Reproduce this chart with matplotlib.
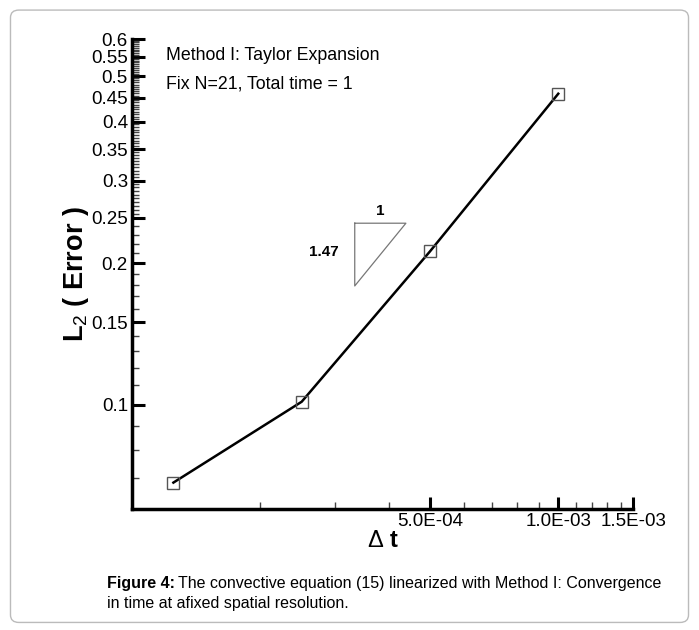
import numpy as np
import matplotlib
matplotlib.use("Agg")
import matplotlib.pyplot as plt
from matplotlib.ticker import FixedLocator, FuncFormatter, NullFormatter
from matplotlib.patches import FancyBboxPatch

plt.rcParams['font.family'] = ['Liberation Sans', 'DejaVu Sans']
plt.rcParams['mathtext.fontset'] = 'custom'
plt.rcParams['mathtext.rm'] = 'Liberation Sans'
plt.rcParams['mathtext.bf'] = 'Liberation Sans:bold'

# convergence in time, Method I
dt = [1.25e-4, 2.5e-4, 5.0e-4, 1.0e-3]
err = [0.0683, 0.1015, 0.212, 0.459]

# slope triangle corners (dt, error)
tri_x = [3.33e-4, 4.39e-4, 3.33e-4, 3.33e-4]
tri_y = [0.2434, 0.2434, 0.179, 0.2434]

y_major = [0.1, 0.15, 0.2, 0.25, 0.3, 0.35, 0.4, 0.45, 0.5, 0.55, 0.6]
x_major = [5.0e-4, 1.0e-3, 1.5e-3]
x_labels = ["5.0E-04", "1.0E-03", "1.5E-03"]

fig = plt.figure(figsize=(6.99, 6.30), dpi=100)
ax = fig.add_axes([0.189, 0.192, 0.717, 0.746])

ax.plot(dt, err, color='black', lw=1.8, marker='s', markersize=8.5,
        markerfacecolor='none', markeredgecolor='#555555', markeredgewidth=1.0)
ax.plot(tri_x, tri_y, color='#777777', lw=0.9)

ax.set_xscale('log')
ax.set_yscale('log')
ax.set_xlim(1.0e-4, 1.5e-3)
ax.set_ylim(0.06, 0.6)

ax.xaxis.set_major_locator(FixedLocator(x_major))
ax.xaxis.set_major_formatter(FuncFormatter(lambda v, p: x_labels[x_major.index(v)] if v in x_major else ""))
x_minor = [k * 1e-4 for k in range(2, 10) if k != 5] + [1.1e-3, 1.2e-3, 1.3e-3, 1.4e-3]
ax.xaxis.set_minor_locator(FixedLocator(x_minor))
ax.xaxis.set_minor_formatter(NullFormatter())

ax.yaxis.set_major_locator(FixedLocator(y_major))
ax.yaxis.set_major_formatter(FuncFormatter(lambda v, p: "%g" % v))
y_minor = [round(0.06 + 0.01 * k, 3) for k in range(0, 20)] + [round(0.25 + 0.005 * k, 4) for k in range(0, 70)]
y_minor = [v for v in y_minor if v <= 0.6 and v not in y_major]
ax.yaxis.set_minor_locator(FixedLocator(y_minor))
ax.yaxis.set_minor_formatter(NullFormatter())

for s in ['top', 'right']:
    ax.spines[s].set_visible(False)
for s in ['left', 'bottom']:
    ax.spines[s].set_linewidth(2.5)

ax.tick_params(axis='both', which='major', direction='in', length=9, width=2.2, labelsize=13.5, color='black')
ax.tick_params(axis='both', which='minor', direction='in', length=5, width=1.0, color='#444444')
ax.tick_params(axis='y', which='both', pad=3)
ax.tick_params(axis='x', which='major', pad=3)

ax.set_ylabel(r"$\mathbf{L}_{\mathrm{2}}$" + " ( Error )", fontsize=19.5, fontweight='bold', labelpad=0)
ax.set_xlabel(r"$\Delta$" + " " + r"$\mathbf{t}$", fontsize=17, labelpad=0)

ax.text(0.068, 0.965, "Method I: Taylor Expansion", transform=ax.transAxes, fontsize=12.8, va='center')
ax.text(0.068, 0.905, "Fix N=21, Total time = 1", transform=ax.transAxes, fontsize=12.8, va='center')
ax.text(3.82e-4, 0.258, "1", fontsize=11, fontweight='bold', ha='center', va='center')
ax.text(3.05e-4, 0.2115, "1.47", fontsize=11, fontweight='bold', ha='right', va='center')

# outer frame and caption
frame = FancyBboxPatch((0.015, 0.012), 0.97, 0.972, boxstyle="round,pad=0,rounding_size=0.012",
                       transform=fig.transFigure, facecolor='none', edgecolor='#bbbbbb', lw=1.0)
fig.patches.append(frame)
head = fig.text(0.153, 0.0745, "Figure 4:", fontsize=11.5, fontweight='bold', va='center')
fig.canvas.draw()
bb = head.get_window_extent().transformed(fig.transFigure.inverted())
fig.text(bb.x1 + 0.005, 0.0745, "The convective equation (15) linearized with Method I: Convergence",
         fontsize=11.5, va='center')
fig.text(0.153, 0.042, "in time at afixed spatial resolution.", fontsize=11.5, va='center')

fig.savefig("out.png", dpi=100)
